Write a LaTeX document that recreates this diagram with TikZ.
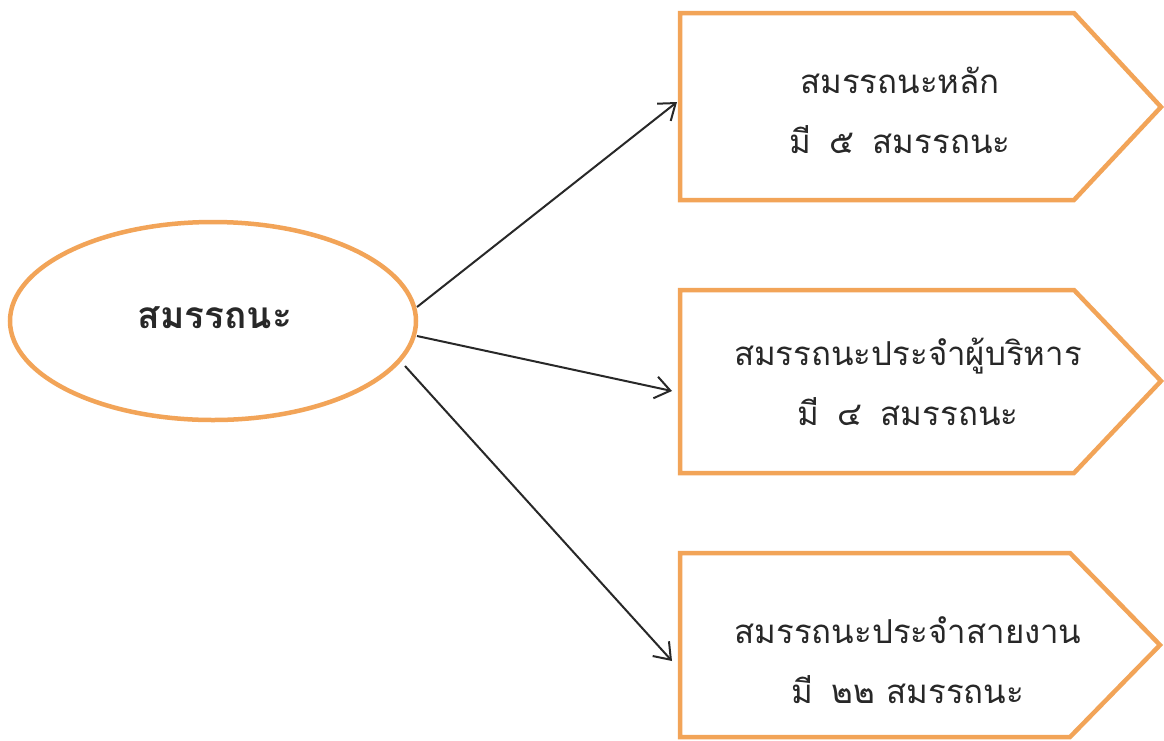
\documentclass[tikz,border=0pt]{standalone}
\usepackage{fontspec}
\newfontfamily\thaifont[Script=Thai]{Loma}
\usetikzlibrary{shapes.geometric,arrows.meta}
\definecolor{ringorange}{RGB}{242,164,88}
\definecolor{inkline}{RGB}{40,40,40}
\newcommand{\gapsp}{\hspace{0.55em}}
\begin{document}
\begin{tikzpicture}[x=1pt,y=-1pt,
  outline/.style={draw=ringorange,line width=4.5pt,line join=miter},
  label/.style={font=\thaifont\fontsize{33}{60}\selectfont,text=inkline,align=center},
  link/.style={draw=inkline,line width=2pt,-{Straight Barb[length=15pt,width=22pt,line width=2pt]}}]
\useasboundingbox (0,0) rectangle (1164,740);
\fill[white] (0,0) rectangle (1164,740);
% central ellipse
\node[ellipse,outline,minimum width=406pt,minimum height=198pt,inner sep=0pt] (core) at (213,321) {};
\node[label,font=\thaifont\bfseries\fontsize{37}{40}\selectfont] (coretext) at (215,318) {สมรรถนะ};
% arrow-shaped boxes
\draw[outline] (680,13) coordinate (b1tl) -- (1074,13) -- (1161,107) -- (1074,200) -- (680,200) -- cycle;
\draw[outline] (680,290) coordinate (b2tl) -- (1074,290) -- (1161,381) -- (1074,473) -- (680,473) -- cycle;
\draw[outline] (680,553) coordinate (b3tl) -- (1070,553) -- (1160,645) -- (1070,737) -- (680,737) -- cycle;
\coordinate (in1) at (677,102);
\coordinate (in2) at (672,391);
\coordinate (in3) at (672,661);
\node[label] (t1) at (900,110) {สมรรถนะหลัก\\มี\gapsp ๕\gapsp สมรรถนะ};
\node[label] (t2) at (908,382) {สมรรถนะประจำผู้บริหาร\\มี\gapsp ๔\gapsp สมรรถนะ};
\node[label] (t3) at (908,660) {สมรรถนะประจำสายงาน\\มี\gapsp ๒๒ สมรรถนะ};
% connectors
\coordinate (o1) at (417,307);
\coordinate (o2) at (417,336);
\coordinate (o3) at (405,366);
\draw[link] (o1) -- (in1);
\draw[link] (o2) -- (in2);
\draw[link] (o3) -- (in3);
\end{tikzpicture}
\end{document}
